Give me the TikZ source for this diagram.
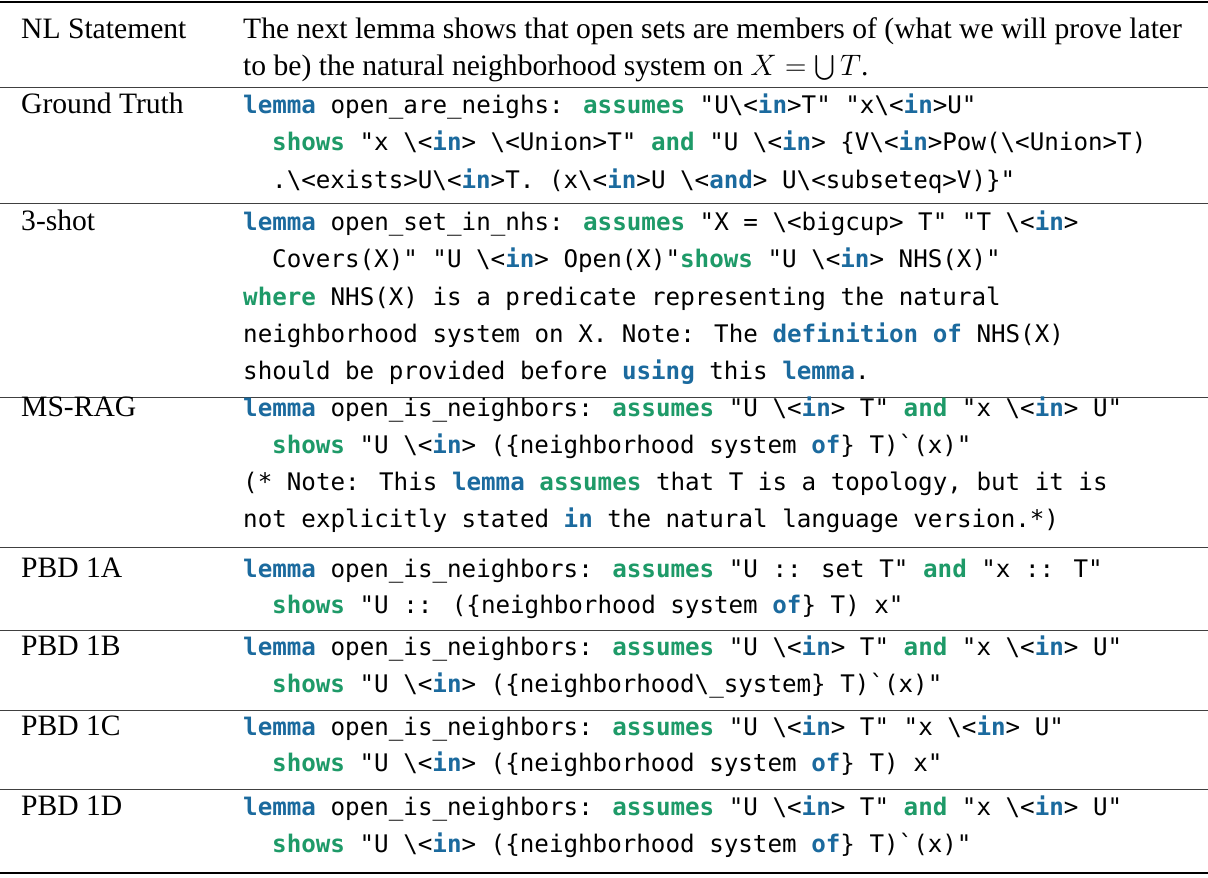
\RequirePackage{fix-cm}
\documentclass[tikz,border=0pt]{standalone}
\usepackage{exscale}
\usepackage{fontspec}
\setmainfont{Liberation Serif}
\newfontfamily\cf{DejaVu Sans Mono}
\definecolor{kwb}{HTML}{1B6A9E}
\definecolor{kwg}{HTML}{1E9A68}
\newcommand\kb[1]{{\bfseries\color{kwb}#1}}
\newcommand\kg[1]{{\bfseries\color{kwg}#1}}
\newcommand\bs{\textbackslash}
\newcommand\q{\symbol{34}}
\newcommand\bq{\symbol{96}}
\begin{document}
\begin{tikzpicture}[x=1pt,y=-1pt,
  lab/.style={anchor=base west,inner sep=0pt,font=\fontsize{29.6}{34}\selectfont},
  nl/.style={anchor=base west,inner sep=0pt,font=\fontsize{29.6}{34}\selectfont},
  cd/.style={anchor=base west,inner sep=0pt,font=\cf\fontsize{24.2}{30}\selectfont},
  thin/.style={line width=0.9pt,draw=black!75},
  thick/.style={line width=1.8pt}]
\useasboundingbox (0,0) rectangle (1208,878);
\def\cx{243} \def\ci{272}
\draw[thick] (0,2) coordinate (t0) -- (1208,2) coordinate (t1);
\draw[thin] (0,87) -- (1208,87);
\draw[thin] (0,203) -- (1208,203);
\draw[thin] (0,397) -- (1208,397);
\draw[thin] (0,547) -- (1208,547);
\draw[thin] (0,630) -- (1208,630);
\draw[thin] (0,710) -- (1208,710);
\draw[thin] (0,789) -- (1208,789);
\draw[thick] (0,873) -- (1208,873);
% labels
\node[lab] (l1) at (21,38) {NL Statement};
\node[lab] (l2) at (21,113) {Ground Truth};
\node[lab] (l3) at (21,230) {3-shot};
\node[lab] (l4) at (21,416) {MS-RAG};
\node[lab] (l5) at (21,577) {PBD 1A};
\node[lab] (l6) at (21,655) {PBD 1B};
\node[lab] (l7) at (21,735) {PBD 1C};
\node[lab] (l8) at (21,815) {PBD 1D};
% NL
\node[nl] (n1) at (\cx,38) {The next lemma shows that open sets are members of (what we will prove later};
\node[nl] (n2) at (\cx,75) {to be) the natural neighborhood system on $X=\bigcup T$.};
% GT
\node[cd] (g1) at (\cx,113) {\kb{lemma} open\_are\_neighs: \kg{assumes} \q U\bs<\kb{in}>T\q{} \q x\bs<\kb{in}>U\q};
\node[cd] (g2) at (\ci,150) {\kg{shows} \q x \bs<\kb{in}> \bs<Union>T\q{} \kg{and} \q U \bs<\kb{in}> \{V\bs<\kb{in}>Pow(\bs<Union>T)};
\node[cd] (g3) at (\ci,188) {.\bs<exists>U\bs<\kb{in}>T. (x\bs<\kb{in}>U \bs<\kb{and}> U\bs<subseteq>V)\}\q};
% 3-shot
\node[cd] (s1) at (\cx,230) {\kb{lemma} open\_set\_in\_nhs: \kg{assumes} \q X = \bs<bigcup> T\q{} \q T \bs<\kb{in}>};
\node[cd] (s2) at (\ci,267) {Covers(X)\q{} \q U \bs<\kb{in}> Open(X)\q\kg{shows} \q U \bs<\kb{in}> NHS(X)\q};
\node[cd] (s3) at (\cx,305) {\kg{where} NHS(X) is a predicate representing the natural};
\node[cd] (s4) at (\cx,342) {neighborhood system on X. Note: The \kb{definition} \kb{of} NHS(X)};
\node[cd] (s5) at (\cx,379) {should be provided before \kb{using} this \kb{lemma}.};
% MS-RAG
\node[cd] (m1) at (\cx,416) {\kb{lemma} open\_is\_neighbors: \kg{assumes} \q U \bs<\kb{in}> T\q{} \kg{and} \q x \bs<\kb{in}> U\q};
\node[cd] (m2) at (\ci,453) {\kg{shows} \q U \bs<\kb{in}> (\{neighborhood system \kb{of}\} T)\bq(x)\q};
\node[cd] (m3) at (\cx,490) {(* Note: This \kb{lemma} \kg{assumes} that T is a topology, but it is};
\node[cd] (m4) at (\cx,527) {not explicitly stated \kb{in} the natural language version.*)};
% 1A
\node[cd] (a1) at (\cx,577) {\kb{lemma} open\_is\_neighbors: \kg{assumes} \q U :: set T\q{} \kg{and} \q x :: T\q};
\node[cd] (a2) at (\ci,613) {\kg{shows} \q U :: (\{neighborhood system \kb{of}\} T) x\q};
% 1B
\node[cd] (b1) at (\cx,655) {\kb{lemma} open\_is\_neighbors: \kg{assumes} \q U \bs<\kb{in}> T\q{} \kg{and} \q x \bs<\kb{in}> U\q};
\node[cd] (b2) at (\ci,692) {\kg{shows} \q U \bs<\kb{in}> (\{neighborhood\bs\_system\} T)\bq(x)\q};
% 1C
\node[cd] (c1) at (\cx,735) {\kb{lemma} open\_is\_neighbors: \kg{assumes} \q U \bs<\kb{in}> T\q{} \q x \bs<\kb{in}> U\q};
\node[cd] (c2) at (\ci,771) {\kg{shows} \q U \bs<\kb{in}> (\{neighborhood system \kb{of}\} T) x\q};
% 1D
\node[cd] (d1) at (\cx,815) {\kb{lemma} open\_is\_neighbors: \kg{assumes} \q U \bs<\kb{in}> T\q{} \kg{and} \q x \bs<\kb{in}> U\q};
\node[cd] (d2) at (\ci,852) {\kg{shows} \q U \bs<\kb{in}> (\{neighborhood system \kb{of}\} T)\bq(x)\q};
\end{tikzpicture}
\end{document}
